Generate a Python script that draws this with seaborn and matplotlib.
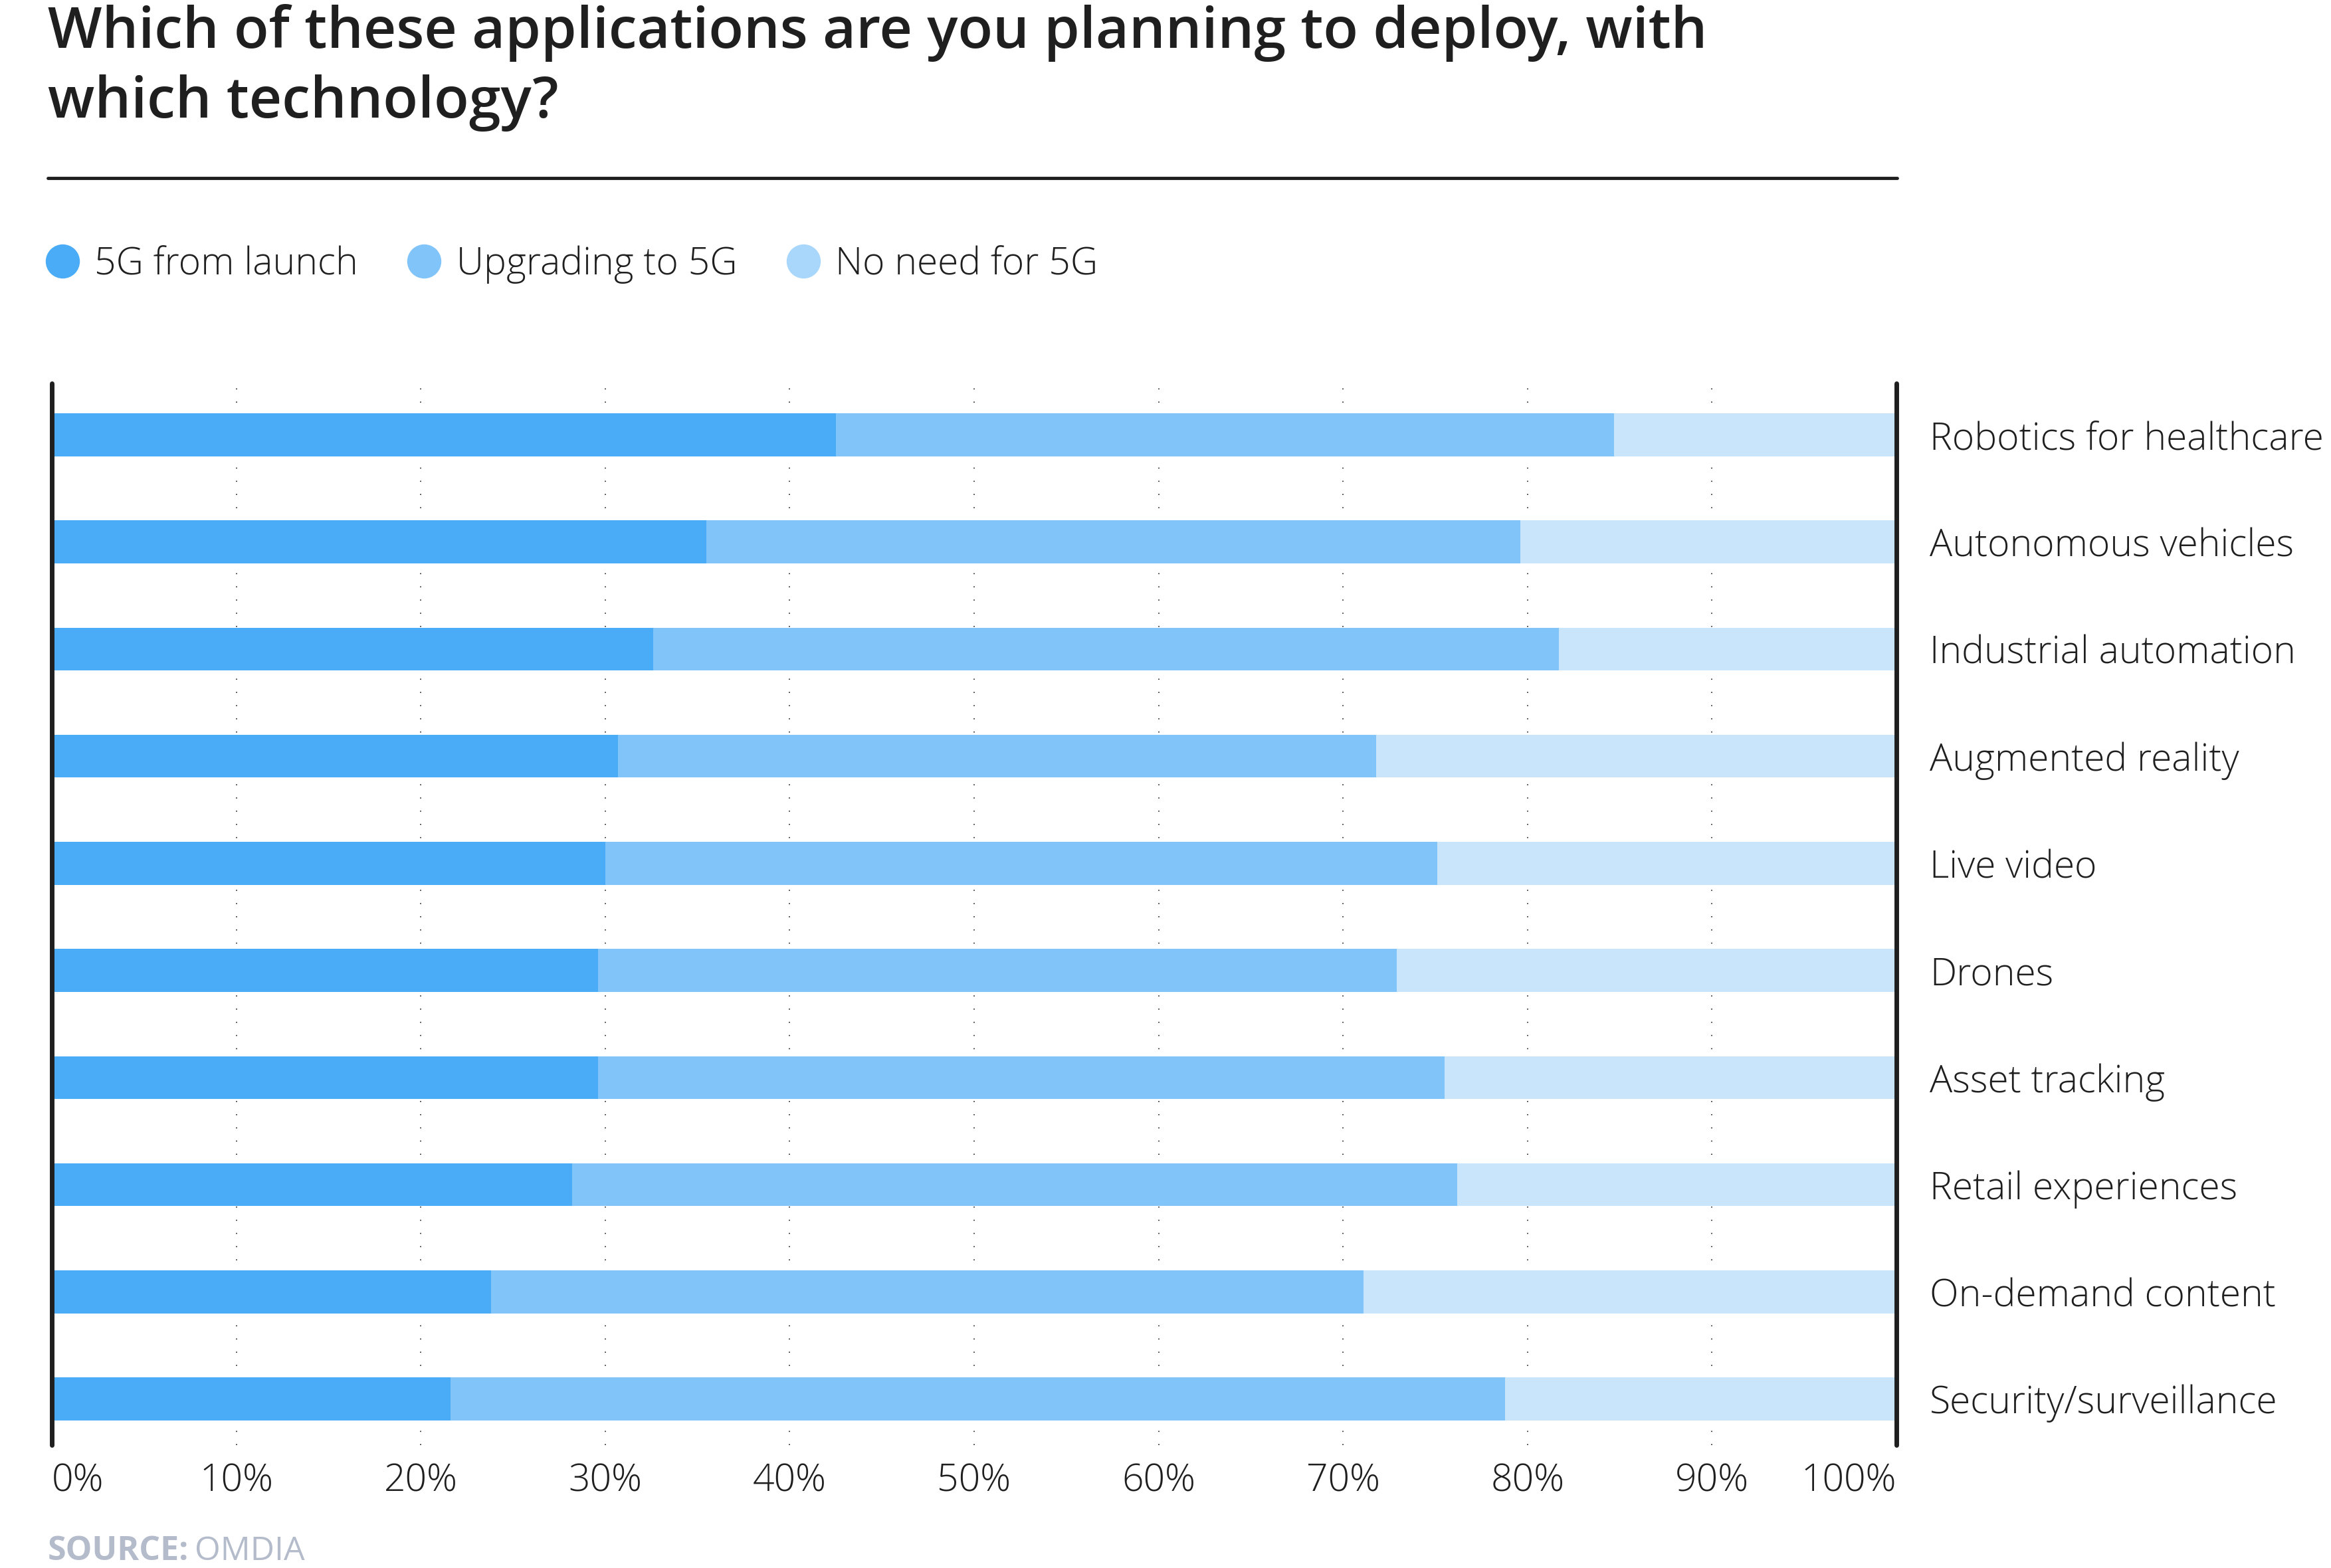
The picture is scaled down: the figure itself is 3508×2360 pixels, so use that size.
import numpy as np
import pandas as pd
import seaborn as sns
from matplotlib import pyplot as plt
from matplotlib.lines import Line2D

# data (percent of respondents)
categories = ['Robotics for healthcare', 'Autonomous vehicles', 'Industrial automation',
              'Augmented reality', 'Live video', 'Drones', 'Asset tracking',
              'Retail experiences', 'On-demand content', 'Security/surveillance']
from_launch = [42.5, 35.5, 32.6, 30.7, 30.0, 29.6, 29.6, 28.2, 23.8, 21.6]
upgrading = [42.2, 44.1, 49.1, 41.1, 45.1, 43.3, 45.9, 48.0, 47.3, 57.2]
no_need = [15.3, 20.4, 18.3, 28.2, 24.9, 27.1, 24.5, 23.8, 28.9, 21.2]
series_names = ['5G from launch', 'Upgrading to 5G', 'No need for 5G']
tick_values = [0, 10, 20, 30, 40, 50, 60, 70, 80, 90, 100]

bar_colors = ['#4aacf7', '#81c4f9', '#c9e5fc']
legend_colors = ['#4aacf7', '#81c4f9', '#a8d7fb']
dark = '#1f1f1f'

sns.set_theme(style='white')
plt.rcParams['font.family'] = ['Open Sans', 'DejaVu Sans']

df = pd.DataFrame({'category': categories, 'launch': from_launch,
                   'upgrading': upgrading, 'no_need': no_need})
df['cum1'] = df['launch']
df['cum2'] = df['launch'] + df['upgrading']
df['cum3'] = df['cum2'] + df['no_need']

W, H = 3508, 2360
fig = plt.figure(figsize=(W / 100, H / 100), dpi=100)
left, right, top, bottom = 78, 2854, 577, 2175
ax = fig.add_axes([left / W, 1 - bottom / H, (right - left) / W, (bottom - top) / H])

# stacked bars drawn as layered cumulative totals
for col, c in zip(['cum3', 'cum2', 'cum1'], bar_colors[::-1]):
    sns.barplot(data=df, x=col, y='category', orient='h', color=c, width=0.4,
                saturation=1, linewidth=0, ax=ax, zorder=2)

ax.set_xlim(0, 100)
ax.set_ylim(9.43, -0.48)
ax.set_xlabel('')
ax.set_ylabel('')

ax.set_xticks(tick_values)
ax.set_xticklabels([f'{v}%' for v in tick_values])
ax.tick_params(axis='x', length=0, pad=19, labelsize=41, labelcolor=dark)
xl = ax.get_xticklabels()
xl[0].set_ha('left')
xl[-1].set_ha('right')
for t in xl:
    t.set_fontweight('light')

ax.yaxis.tick_right()
ax.tick_params(axis='y', length=0, pad=36, labelsize=41, labelcolor=dark)
for t in ax.get_yticklabels():
    t.set_fontweight('light')
    t.set_va('center_baseline')

ax.grid(axis='x', color='black', linestyle=(0, (1, 12)), linewidth=1.1, zorder=0)
ax.grid(axis='y', visible=False)
ax.set_axisbelow(True)

for s in ['top', 'bottom']:
    ax.spines[s].set_visible(False)
for s in ['left', 'right']:
    ax.spines[s].set_color(dark)
    ax.spines[s].set_linewidth(5)
    ax.spines[s].set_capstyle('round')
    ax.spines[s].set_zorder(5)

# title and rule
fig.text(72 / W, 1 - 6 / H, 'Which of these applications are you planning to deploy, with\nwhich technology?',
         ha='left', va='top', fontsize=62, fontweight='semibold', color=dark, linespacing=1.3)
fig.add_artist(Line2D([72 / W, 2855 / W], [1 - 268 / H, 1 - 268 / H], color=dark, linewidth=3.5))

# legend
handles = [Line2D([0], [0], marker='o', linestyle='', markersize=37,
                  markerfacecolor=c, markeredgewidth=0) for c in legend_colors]
leg = fig.legend(handles, series_names, loc='center left', bbox_to_anchor=(68 / W, 1 - 398 / H),
                 ncol=3, frameon=False, fontsize=41, handlelength=0.9, handletextpad=0.4,
                 columnspacing=1.3, borderpad=0, borderaxespad=0)
for t in leg.get_texts():
    t.set_fontweight('light')
    t.set_color(dark)

# source
fig.text(72 / W, 1 - 2335 / H, 'SOURCE:', ha='left', va='center', fontsize=36,
         fontweight='bold', color='#b4bccb')
fig.text(293 / W, 1 - 2335 / H, 'OMDIA', ha='left', va='center', fontsize=36,
         color='#b4bccb')

fig.savefig('out.png', dpi=100, facecolor='white')
